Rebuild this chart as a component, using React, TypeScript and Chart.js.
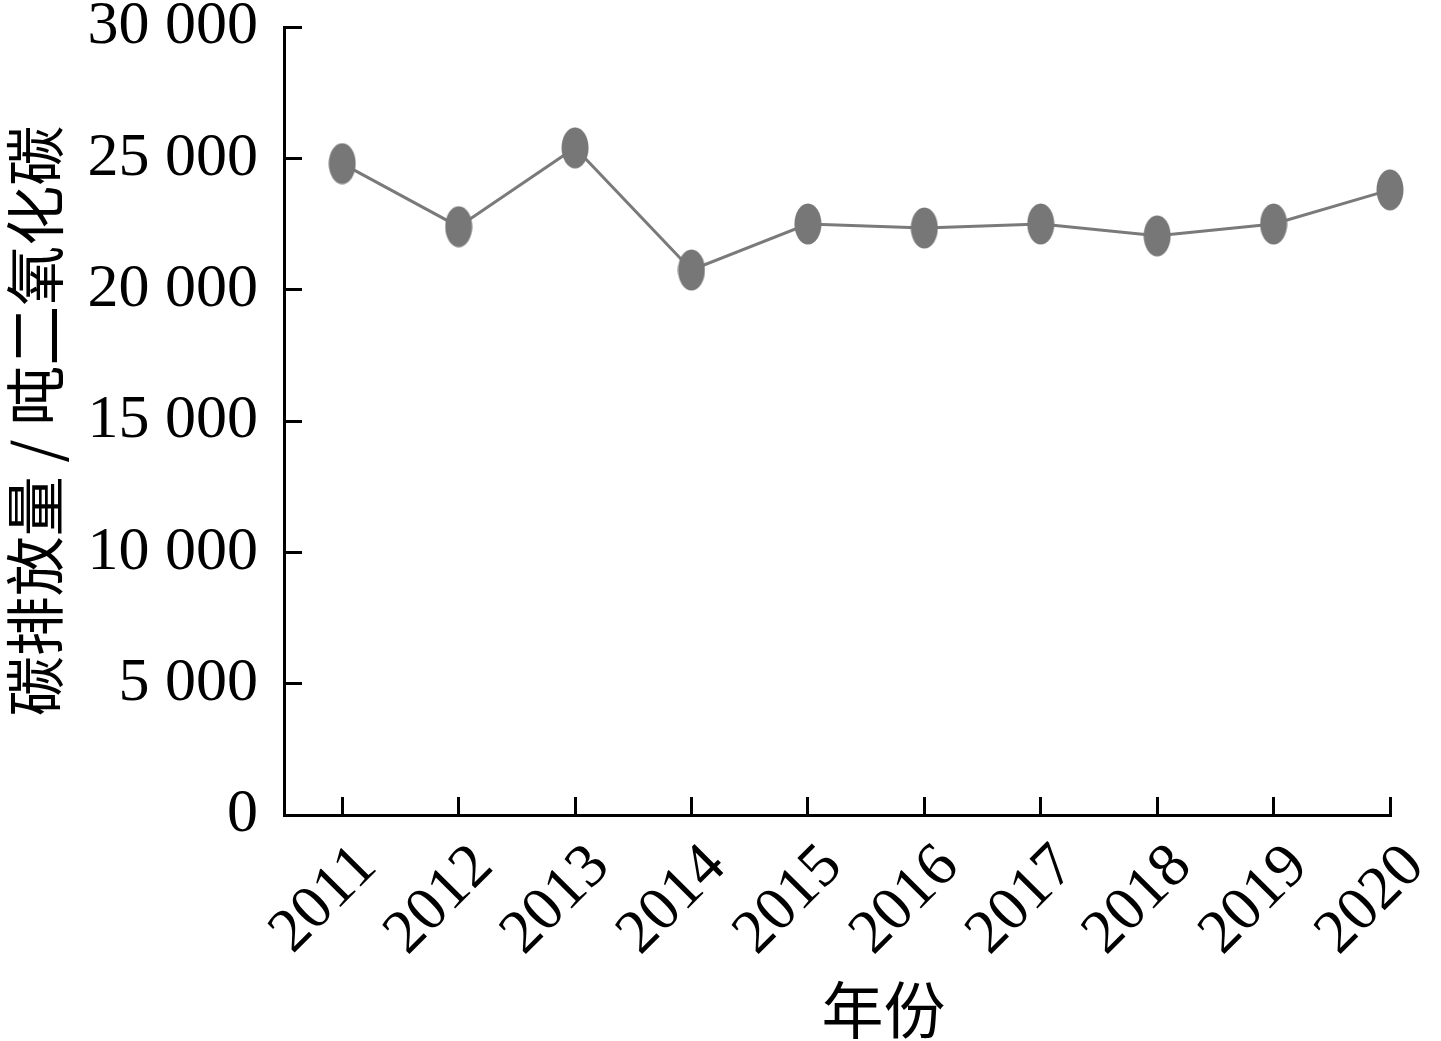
import React, { useEffect, useRef } from "react";
import { Chart, registerables } from "chart.js";

Chart.register(...registerables);

const years = [2011, 2012, 2013, 2014, 2015, 2016, 2017, 2018, 2019, 2020];
const emissions = [24800, 22400, 25400, 20750, 22500, 22350, 22500, 22050, 22500, 23800];
const yTicks = [0, 5000, 10000, 15000, 20000, 25000, 30000];
const xTitle = "\u3000\u2002年份";
const yTitle = "碳排放量 / 吨二氧化碳";

function makeEllipse(w: number, h: number, color: string) {
  const c = document.createElement("canvas");
  c.width = w;
  c.height = h;
  const ctx = c.getContext("2d")!;
  ctx.fillStyle = color;
  ctx.beginPath();
  ctx.ellipse(w / 2, h / 2, w / 2 - 0.5, h / 2 - 0.5, 0, 0, Math.PI * 2);
  ctx.fill();
  return c;
}

function fmt(v: number) {
  if (v === 0) return "0";
  const th = Math.floor(v / 1000);
  return `${th} 000`;
}

export default function App() {
  const ref = useRef<HTMLCanvasElement | null>(null);
  useEffect(() => {
    if (!ref.current) return;
    const ellipse = makeEllipse(28, 42, "#777777");
    const serif = "'Liberation Serif', 'Times New Roman', serif";
    const cjk = "'Noto Sans CJK SC', sans-serif";
    const chart = new Chart(ref.current, {
      type: "line",
      data: {
        datasets: [
          {
            data: years.map((y, i) => ({ x: y, y: emissions[i] })),
            borderColor: "#7a7a7a",
            borderWidth: 3,
            pointStyle: ellipse as any,
            pointRadius: 14,
            backgroundColor: "#777777",
            clip: false as any,
          },
        ],
      },
      options: {
        animation: false,
        responsive: true,
        maintainAspectRatio: false,
        layout: { padding: { left: 5, top: 27, right: 51, bottom: 0 } },
        plugins: { legend: { display: false }, tooltip: { enabled: false } },
        scales: {
          x: {
            type: "linear",
            min: 2010.5,
            max: 2020,
            afterBuildTicks: (s: any) => {
              s.ticks = years.map((v) => ({ value: v }));
            },
            afterFit: (s: any) => {
              s.height = 226;
              s.paddingLeft = 0;
              s.paddingRight = 0;
            },
            border: { display: true, color: "#000", width: 3 },
            grid: {
              drawOnChartArea: false,
              drawTicks: true,
              tickLength: -18,
              tickWidth: 3,
              tickColor: "#000",
              color: "#000",
            },
            ticks: {
              autoSkip: false,
              maxRotation: 45,
              minRotation: 45,
              padding: 38,
              labelOffset: 25,
              color: "#000",
              font: { family: serif, size: 62, lineHeight: 1 },
              callback: (v: any) => String(v),
            },
            title: {
              display: true,
              text: xTitle,
              color: "#000",
              font: { family: cjk, size: 62, lineHeight: 1 },
              padding: { top: 0, bottom: 0 },
            },
          },
          y: {
            min: 0,
            max: 30000,
            afterBuildTicks: (s: any) => {
              s.ticks = yTicks.map((v) => ({ value: v }));
            },
            afterFit: (s: any) => {
              s.width = 279;
              s.paddingTop = 0;
              s.paddingBottom = 0;
            },
            border: { display: true, color: "#000", width: 3 },
            grid: {
              drawOnChartArea: false,
              drawTicks: true,
              tickLength: -18,
              tickWidth: 3,
              tickColor: "#000",
              color: "#000",
            },
            ticks: {
              padding: 44,
              color: "#000",
              font: { family: serif, size: 62, lineHeight: 1 },
              callback: (v: any) => fmt(Number(v)),
            },
            title: {
              display: true,
              text: yTitle,
              color: "#000",
              font: { family: cjk, size: 60, lineHeight: 1 },
              padding: { top: 0, bottom: 0 },
            },
          },
        },
      },
    });
    return () => chart.destroy();
  }, []);
  return (
    <div style={{ position: "fixed", left: 0, top: 0, width: 1441, height: 1041, background: "#fff" }}>
      <canvas ref={ref} />
    </div>
  );
}
